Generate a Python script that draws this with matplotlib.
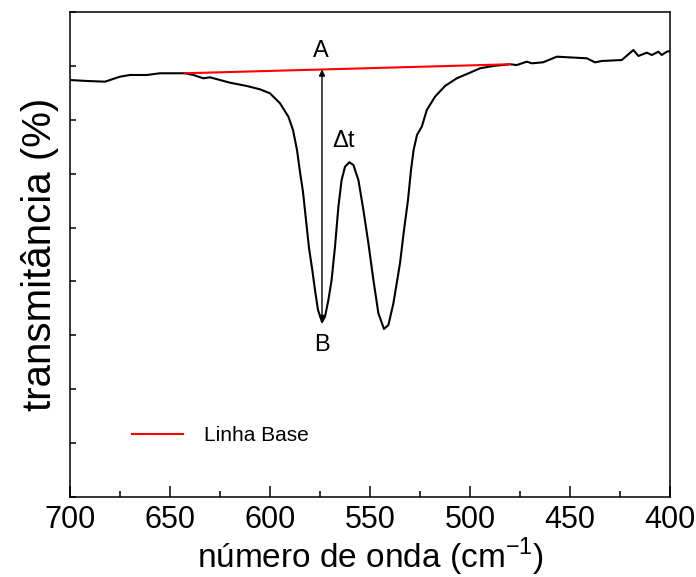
import numpy as np
from matplotlib import pyplot as plt
from matplotlib.ticker import MultipleLocator

# FTIR spectrum (arbitrary transmittance units)
wavenumber = [700, 691.5, 682.5, 675, 670, 661.6, 655, 645.8, 642.5, 638.3, 633.3,
              630, 620, 611.6, 605, 600, 595, 590.8, 588.5, 586.5, 585, 583.5, 582,
              580.5, 579, 577.5, 576, 574, 572.5, 570.8, 569.2, 567.5, 565.8, 564.2,
              562.5, 560.3, 558.3, 555.8, 553.3, 550.8, 548.3, 545.8, 543, 540.8,
              538.3, 535, 533, 531, 529.5, 528.2, 526.5, 524.1, 521.6, 517.5, 512.5,
              506.6, 500, 495, 488.5, 480, 476.6, 471.6, 469.1, 463.5, 456.6, 441.6,
              437.5, 434.1, 424.1, 418.3, 415.8, 411.6, 409.1, 405.8, 404.1, 401.6, 400]
transmitance = [77.38, 77.20, 77.07, 78.00, 78.31, 78.31, 78.63, 78.63, 78.63, 78.31, 77.70,
                77.88, 76.88, 76.27, 75.65, 74.91, 73.06, 70.57, 68.10, 64.39, 60.31, 56.60, 51.40,
                46.21, 42.50, 38.41, 34.70, 32.47, 33.46, 36.56, 40.27, 46.45, 53.87, 58.82,
                61.29, 62.11, 61.61, 58.82, 53.25, 47.08, 40.27, 34.09, 31.18, 31.92,
                35.94, 43.37, 49.55, 55.11, 60.68, 64.39, 67.18, 68.72, 71.81, 74.28, 76.27,
                77.70, 78.74, 79.55, 79.98, 80.30, 80.16, 80.78, 80.48, 80.66, 81.71, 81.41,
                80.66, 80.91, 81.09, 82.95, 81.84, 82.45, 82.02, 82.63, 82.02, 82.63, 82.76]

# linha base
base_x = [642.5, 480]
base_y = [78.63, 80.30]

# posicao da medida delta t
dt_x = 574

plt.rcParams['font.family'] = ['Liberation Sans', 'DejaVu Sans']

fig = plt.figure(figsize=(6.96, 5.77), dpi=100)
ax = fig.add_axes([70/696, 80/577, 600/696, 485/577])

ax.plot(wavenumber, transmitance, color='black', linewidth=1.5)
ax.plot(base_x, base_y, color='red', linewidth=1.5, label='Linha Base')

# seta entre o minimo da banda (B) e a linha base (A)
x = np.array(wavenumber)
y = np.array(transmitance)
top = np.interp(dt_x, base_x[::-1], base_y[::-1])
bottom = y[x == dt_x][0]
ax.annotate('', xy=(dt_x, top), xytext=(dt_x, bottom),
            arrowprops=dict(arrowstyle='<|-|>', color='black', lw=1.0,
                            mutation_scale=9, shrinkA=0, shrinkB=0))
ax.text(dt_x + 0.5, top + 1.4, 'A', ha='center', va='bottom', fontsize=17)
ax.text(dt_x, bottom - 2.3, 'B', ha='center', va='top', fontsize=17)
ax.text(dt_x - 5, 64.0, 'Δt', ha='left', va='bottom', fontsize=17)

ax.set_xlim(700, 400)
ax.set_ylim(0, 90)
ax.xaxis.set_major_locator(MultipleLocator(50))
ax.xaxis.set_minor_locator(MultipleLocator(25))
ax.yaxis.set_major_locator(MultipleLocator(10))
ax.tick_params(axis='x', which='major', direction='in', length=8, width=1.1,
               labelsize=22, pad=6)
ax.tick_params(axis='x', which='minor', direction='in', length=4, width=1.1)
ax.tick_params(axis='y', which='major', direction='in', length=4, width=1.1,
               labelleft=False)
for s in ax.spines.values():
    s.set_linewidth(1.1)

ax.set_xlabel('número de onda (cm$^{\\mathregular{-1}}$)', fontsize=24, labelpad=0)
ax.set_ylabel('transmitância (%)', fontsize=29, labelpad=8)

ax.legend(loc='center left', bbox_to_anchor=(0.103, 0.126), frameon=False,
          fontsize=15, handlelength=2.45, handletextpad=1.0, borderpad=0,
          borderaxespad=0)

plt.savefig('out.png', dpi=100)
